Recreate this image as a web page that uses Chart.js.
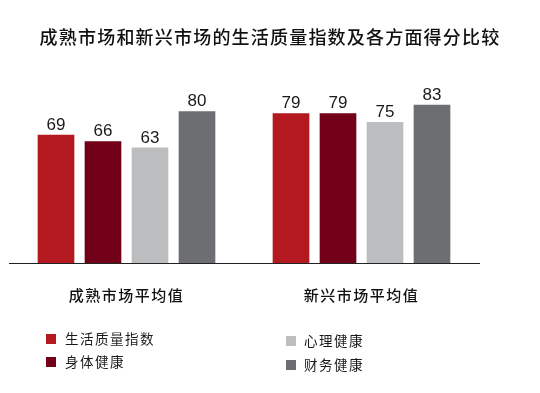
<!DOCTYPE html>
<html>
<head>
<meta charset="utf-8">
<script src="https://cdn.jsdelivr.net/npm/chart.js@4.4.1/dist/chart.umd.min.js"></script>
<style>
html,body{margin:0;padding:0;background:#fff;}
#wrap{width:540px;height:393px;position:relative;}
</style>
</head>
<body>
<div id="wrap"><canvas id="c" width="540" height="393"></canvas></div>
<script>
const titleText = '成熟市场和新兴市场的生活质量指数及各方面得分比较';
const categories = ['成熟市场平均值', '新兴市场平均值'];
const seriesNames = ['生活质量指数', '身体健康', '心理健康', '财务健康'];
const qualityIndex = [69, 79];
const physicalHealth = [66, 79];
const mentalHealth = [63, 75];
const financialHealth = [80, 83];
const seriesColors = ['#B3191F', '#730019', '#BCBDBF', '#6D6E71'];

const seriesValues = [qualityIndex, physicalHealth, mentalHealth, financialHealth];

const CJK = '"Noto Sans CJK SC", "Noto Sans", sans-serif';

const spacingPlugin = {
  id: 'spacing',
  beforeDraw(chart) {
    chart.ctx.letterSpacing = '1.2px';
  },
  afterDatasetsDraw(chart) {
    const ctx = chart.ctx;
    ctx.save();
    ctx.letterSpacing = '0px';
    ctx.font = '17px "Liberation Sans", Arial, sans-serif';
    ctx.fillStyle = '#1a1a1a';
    ctx.textAlign = 'center';
    ctx.textBaseline = 'alphabetic';
    chart.data.datasets.forEach((ds, di) => {
      const meta = chart.getDatasetMeta(di);
      meta.data.forEach((bar, i) => {
        ctx.fillText(String(ds.data[i]), bar.x, bar.y - 5);
      });
    });
    ctx.restore();
    ctx.letterSpacing = '1.5px';
  },
  afterDraw(chart) {
    const ctx = chart.ctx;
    const area = chart.chartArea;
    ctx.save();
    ctx.letterSpacing = '1.5px';
    ctx.font = '13.5px ' + CJK;
    ctx.textBaseline = 'middle';
    ctx.textAlign = 'left';
    const cols = [
      {sq: area.left + 37, tx: area.left + 56, rows: [area.bottom + 76, area.bottom + 99]},
      {sq: area.left + 277, tx: area.left + 295, rows: [area.bottom + 78, area.bottom + 102]}
    ];
    chart.data.datasets.forEach((ds, di) => {
      const col = cols[Math.floor(di / 2)];
      const y = col.rows[di % 2];
      ctx.fillStyle = ds.backgroundColor;
      ctx.fillRect(col.sq, y - 5, 10, 10);
      ctx.fillStyle = '#1a1a1a';
      ctx.fillText(ds.label, col.tx, y);
    });
    ctx.restore();
    ctx.letterSpacing = '0px';
  }
};

new Chart(document.getElementById('c'), {
  type: 'bar',
  data: {
    labels: categories,
    datasets: seriesNames.map((name, i) => ({
      label: name,
      data: seriesValues[i],
      backgroundColor: seriesColors[i],
      borderWidth: 0,
      categoryPercentage: 0.8,
      barPercentage: 0.78
    }))
  },
  options: {
    responsive: false,
    animation: false,
    devicePixelRatio: 1,
    layout: { padding: { top: 0, bottom: 66, left: 0, right: 0 } },
    plugins: {
      legend: { display: false },
      tooltip: { enabled: false },
      title: {
        display: true,
        text: titleText,
        color: '#111',
        font: { family: CJK, size: 18, weight: 500, lineHeight: 1.2 },
        padding: { top: 26, bottom: 23 }
      }
    },
    scales: {
      x: {
        grid: { display: false, drawTicks: false },
        border: { display: true, color: '#222', width: 1, z: 1 },
        ticks: {
          z: 1,
          padding: 23,
          color: '#111',
          font: { family: CJK, size: 15, weight: 500, lineHeight: 1.2 }
        }
      },
      y: {
        position: 'left',
        min: 9,
        max: 99,
        grid: { display: false, drawTicks: false },
        border: { display: false },
        ticks: { display: false },
        afterFit(s) { s.width = 9; }
      },
      y2: {
        position: 'right',
        grid: { display: false, drawTicks: false },
        border: { display: false },
        ticks: { display: false },
        afterFit(s) { s.width = 61; }
      }
    }
  },
  plugins: [spacingPlugin]
});
</script>
</body>
</html>
